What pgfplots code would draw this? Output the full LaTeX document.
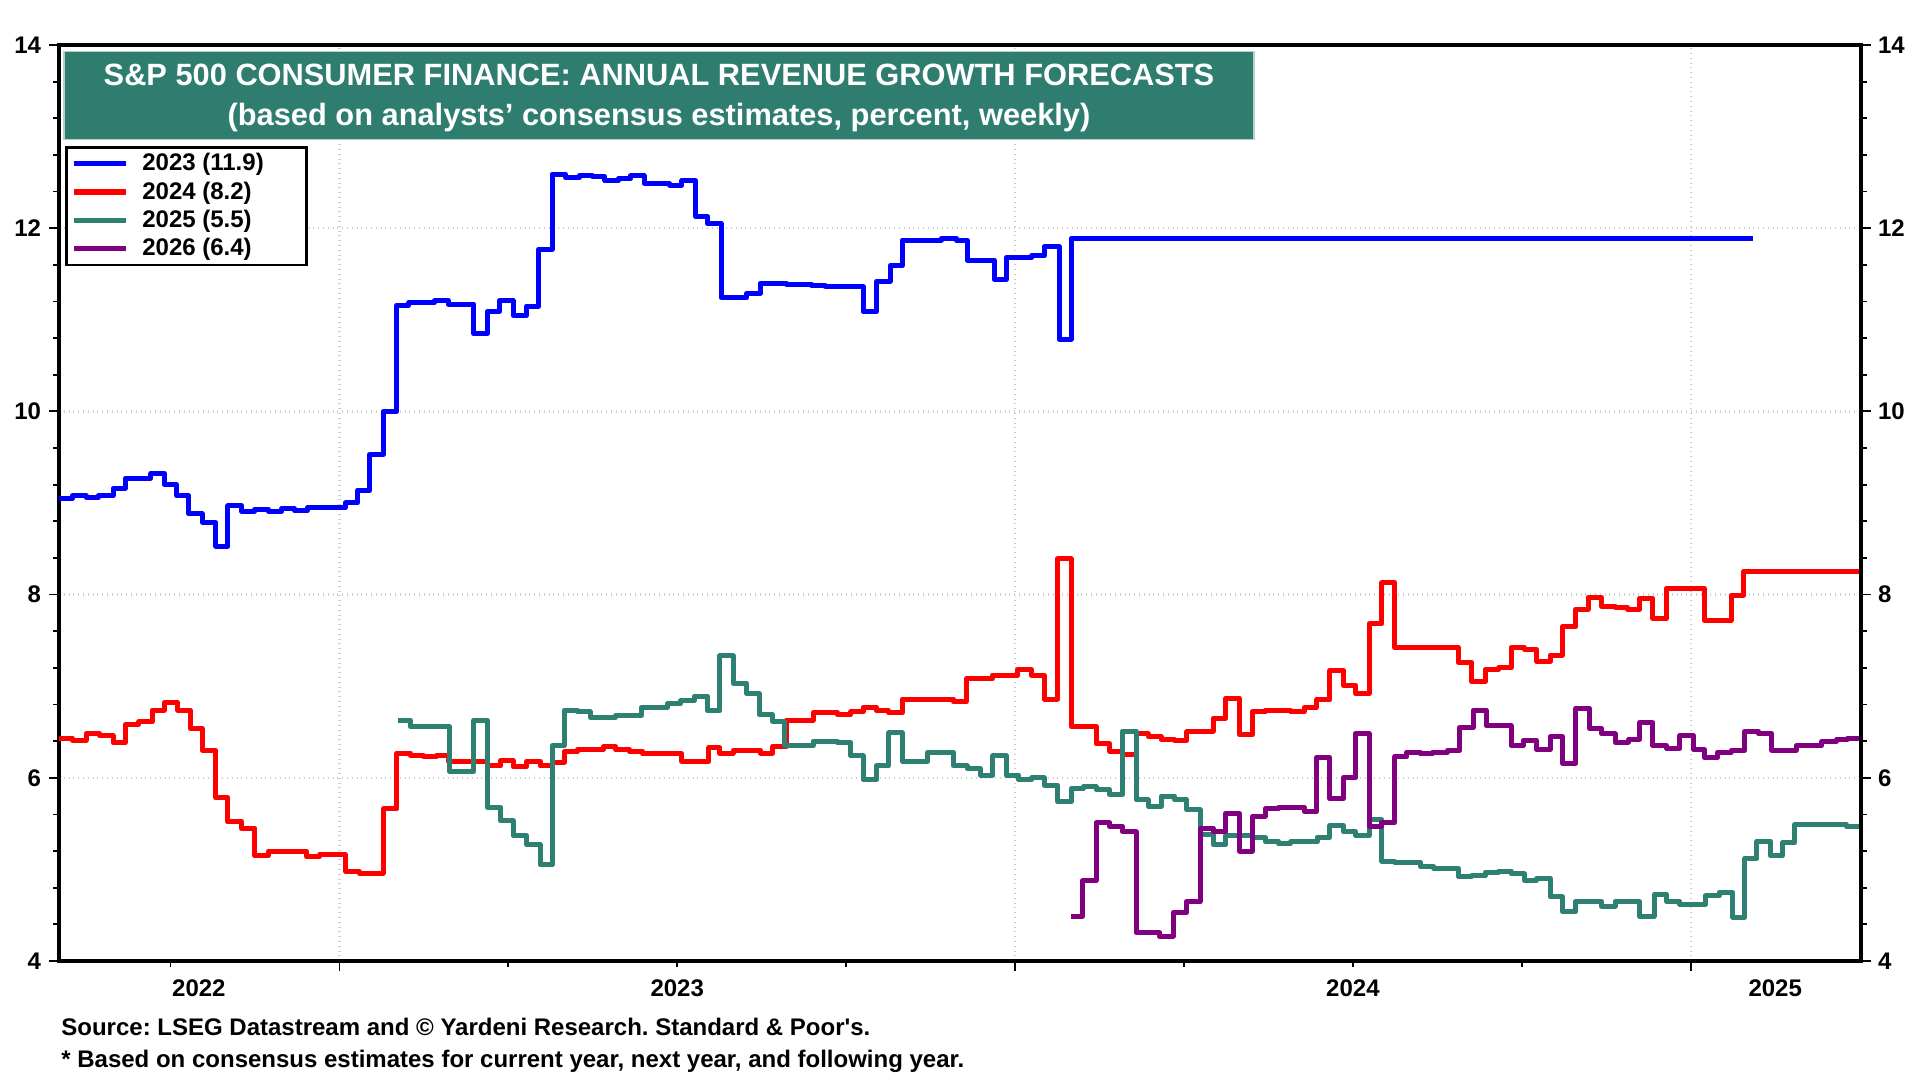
\documentclass[border=0pt]{standalone}
\usepackage{fontspec}
\setmainfont{Liberation Sans}
\usepackage{pgfplots}
\pgfplotsset{compat=1.18}
\frenchspacing
\definecolor{cblue}{RGB}{0,0,255}
\definecolor{cred}{RGB}{255,0,0}
\definecolor{cgreen}{RGB}{46,128,114}
\definecolor{cpurple}{RGB}{128,0,128}
\definecolor{boxgreen}{RGB}{46,125,110}
\definecolor{gridgray}{RGB}{205,205,205}
\newcommand{\tickfont}{\bfseries\fontsize{12}{14}\selectfont}
\begin{document}
\begin{tikzpicture}[x=1pt,y=1pt]
\path (0,0) rectangle (960,540);
\begin{axis}[
  at={(29.5pt,59.5pt)}, anchor=south west,
  scale only axis, width=901pt, height=458pt,
  xmin=2022.585, xmax=2025.252, ymin=4, ymax=14,
  axis line style={line width=2pt},
  tick align=outside, xtick pos=left, ytick pos=left,
  major tick length=5pt, minor tick length=3pt,
  tick style={black, line width=0.9pt},
  xtick={2023,2024,2025}, xticklabels={},
  minor xtick={2022.75,2023.25,2023.5,2023.75,2024.25,2024.5,2024.75},
  extra x ticks={2022.792,2023.5,2024.5,2025.125},
  extra x tick labels={2022,2023,2024,2025},
  extra x tick style={major tick length=0pt, grid=none, xticklabel style={yshift=-6pt}},
  ytick={4,6,8,10,12,14}, minor y tick num=4,
  xmajorgrids, ymajorgrids,
  major grid style={gridgray, dotted, line width=1.2pt},
  ticklabel style={font=\tickfont},
  yticklabel style={xshift=-0.5pt},
  /pgf/number format/assume math mode=true,
  legend style={at={(axis description cs:0.0033,0.8897)}, anchor=north west,
    draw=black, line width=1.3pt, fill=white,
    font=\bfseries\fontsize{12}{13}\selectfont,
    row sep=0pt, inner xsep=2.5pt, inner ysep=1pt, cells={anchor=west}},
  legend image code/.code={\draw[#1, line width=2.6pt] (0pt,0pt) -- (26pt,0pt); \path (31pt,0pt);},
  every axis plot/.append style={line width=2.5pt, line join=round, const plot},
]
\addplot[cblue] table[x=x,y=y] {
x y
2022.585 9.05
2022.605 9.08
2022.625 9.06
2022.643 9.08
2022.665 9.16
2022.683 9.27
2022.721 9.32
2022.741 9.20
2022.759 9.08
2022.777 8.88
2022.797 8.79
2022.817 8.53
2022.835 8.97
2022.855 8.91
2022.875 8.93
2022.895 8.91
2022.915 8.94
2022.933 8.92
2022.953 8.95
2023.009 9.00
2023.027 9.14
2023.045 9.53
2023.065 10.00
2023.085 11.16
2023.103 11.19
2023.141 11.21
2023.161 11.17
2023.199 10.85
2023.219 11.09
2023.237 11.21
2023.257 11.05
2023.277 11.15
2023.295 11.77
2023.315 12.59
2023.335 12.55
2023.355 12.57
2023.375 12.56
2023.393 12.52
2023.413 12.54
2023.431 12.57
2023.451 12.49
2023.489 12.47
2023.507 12.52
2023.527 12.13
2023.545 12.05
2023.565 11.24
2023.603 11.29
2023.623 11.40
2023.661 11.39
2023.699 11.37
2023.719 11.36
2023.775 11.09
2023.795 11.42
2023.815 11.59
2023.833 11.87
2023.891 11.89
2023.913 11.87
2023.929 11.65
2023.969 11.44
2023.987 11.68
2024.025 11.70
2024.043 11.80
2024.065 10.79
2024.083 11.89
2025.092 11.89
};
\addlegendentry{2023 (11.9)\hspace*{17pt}\mbox{}}
\addplot[cred] table[x=x,y=y] {
x y
2022.585 6.43
2022.605 6.41
2022.625 6.48
2022.645 6.46
2022.665 6.38
2022.683 6.58
2022.703 6.61
2022.723 6.74
2022.741 6.82
2022.761 6.74
2022.779 6.54
2022.797 6.30
2022.817 5.78
2022.835 5.52
2022.855 5.45
2022.875 5.15
2022.895 5.20
2022.951 5.14
2022.971 5.16
2023.009 4.98
2023.029 4.96
2023.065 5.66
2023.085 6.27
2023.105 6.24
2023.125 6.23
2023.143 6.24
2023.161 6.18
2023.219 6.13
2023.239 6.19
2023.257 6.12
2023.277 6.18
2023.297 6.13
2023.315 6.17
2023.333 6.29
2023.353 6.31
2023.391 6.34
2023.409 6.31
2023.429 6.29
2023.449 6.26
2023.507 6.18
2023.547 6.33
2023.563 6.27
2023.583 6.30
2023.623 6.27
2023.641 6.34
2023.661 6.63
2023.701 6.71
2023.737 6.69
2023.757 6.72
2023.775 6.77
2023.795 6.73
2023.813 6.71
2023.833 6.86
2023.909 6.83
2023.928 7.08
2023.966 7.12
2024.004 7.18
2024.024 7.12
2024.043 6.86
2024.063 8.39
2024.083 6.56
2024.120 6.37
2024.140 6.29
2024.159 6.25
2024.179 6.48
2024.197 6.45
2024.216 6.42
2024.236 6.41
2024.254 6.50
2024.274 6.51
2024.293 6.65
2024.312 6.87
2024.332 6.47
2024.351 6.72
2024.371 6.74
2024.408 6.72
2024.428 6.77
2024.446 6.85
2024.466 7.17
2024.486 7.01
2024.504 6.92
2024.524 7.68
2024.543 8.13
2024.562 7.42
2024.656 7.26
2024.676 7.05
2024.696 7.18
2024.716 7.20
2024.734 7.42
2024.754 7.40
2024.772 7.27
2024.792 7.34
2024.810 7.65
2024.830 7.84
2024.848 7.97
2024.868 7.87
2024.888 7.86
2024.906 7.84
2024.924 7.96
2024.944 7.74
2024.964 8.07
2025.020 7.72
2025.060 7.99
2025.078 8.25
2025.252 8.25
};
\addlegendentry{2024 (8.2)}
\addplot[cgreen] table[x=x,y=y] {
x y
2023.087 6.63
2023.105 6.56
2023.163 6.07
2023.199 6.63
2023.219 5.68
2023.239 5.53
2023.257 5.37
2023.277 5.27
2023.297 5.05
2023.315 6.35
2023.333 6.74
2023.353 6.72
2023.371 6.66
2023.409 6.68
2023.447 6.77
2023.486 6.81
2023.505 6.84
2023.525 6.89
2023.545 6.73
2023.563 7.33
2023.583 7.03
2023.603 6.92
2023.621 6.69
2023.641 6.62
2023.659 6.35
2023.701 6.40
2023.737 6.38
2023.757 6.24
2023.775 5.98
2023.795 6.13
2023.813 6.49
2023.833 6.18
2023.871 6.28
2023.909 6.13
2023.929 6.10
2023.949 6.03
2023.967 6.24
2023.987 6.03
2024.005 5.98
2024.025 6.00
2024.043 5.92
2024.063 5.74
2024.083 5.88
2024.101 5.90
2024.120 5.87
2024.140 5.82
2024.159 6.51
2024.179 5.76
2024.197 5.69
2024.216 5.80
2024.236 5.76
2024.254 5.65
2024.274 5.38
2024.293 5.27
2024.312 5.37
2024.351 5.35
2024.370 5.31
2024.390 5.28
2024.408 5.30
2024.447 5.35
2024.466 5.48
2024.486 5.41
2024.504 5.37
2024.524 5.54
2024.543 5.09
2024.562 5.08
2024.600 5.03
2024.620 5.01
2024.656 4.92
2024.676 4.93
2024.696 4.97
2024.716 4.98
2024.734 4.95
2024.754 4.88
2024.772 4.90
2024.792 4.70
2024.810 4.54
2024.830 4.65
2024.868 4.60
2024.888 4.65
2024.924 4.49
2024.946 4.73
2024.964 4.65
2024.984 4.62
2025.022 4.71
2025.042 4.75
2025.062 4.48
2025.080 5.12
2025.098 5.31
2025.118 5.15
2025.136 5.29
2025.154 5.49
2025.230 5.47
2025.252 5.47
};
\addlegendentry{2025 (5.5)}
\addplot[cpurple] table[x=x,y=y] {
x y
2024.083 4.49
2024.100 4.88
2024.120 5.51
2024.140 5.47
2024.159 5.41
2024.179 4.31
2024.214 4.27
2024.234 4.53
2024.254 4.65
2024.274 5.45
2024.293 5.41
2024.312 5.61
2024.332 5.20
2024.351 5.58
2024.370 5.66
2024.390 5.68
2024.428 5.63
2024.446 6.22
2024.466 5.77
2024.486 6.00
2024.504 6.48
2024.524 5.47
2024.542 5.51
2024.562 6.23
2024.580 6.28
2024.600 6.26
2024.618 6.28
2024.640 6.30
2024.658 6.55
2024.678 6.74
2024.697 6.57
2024.734 6.35
2024.752 6.41
2024.772 6.31
2024.792 6.45
2024.810 6.16
2024.830 6.76
2024.850 6.54
2024.868 6.48
2024.888 6.39
2024.908 6.42
2024.924 6.60
2024.944 6.35
2024.964 6.32
2024.984 6.46
2025.004 6.31
2025.020 6.22
2025.040 6.28
2025.060 6.30
2025.080 6.51
2025.100 6.48
2025.120 6.30
2025.156 6.35
2025.194 6.40
2025.216 6.42
2025.232 6.43
2025.252 6.43
};
\addlegendentry{2026 (6.4)}
\end{axis}
\begin{axis}[
  at={(29.5pt,59.5pt)}, anchor=south west,
  scale only axis, width=901pt, height=458pt,
  xmin=2022.585, xmax=2025.252, ymin=4, ymax=14,
  axis x line=none, axis y line*=right,
  axis line style={line width=2pt},
  tick align=outside,
  major tick length=5pt, minor tick length=3pt,
  tick style={black, line width=0.9pt},
  ytick={4,6,8,10,12,14}, minor y tick num=4,
  ticklabel style={font=\tickfont},
  /pgf/number format/assume math mode=true,
]
\addplot[draw=none] coordinates {(2023,4)};
\end{axis}
\fill[boxgreen] (31.9,470.2) rectangle (627,514.3);
\draw[white!65!boxgreen, line width=0.8pt] (31.9,470.2) rectangle (627,514.3);
\node[white, font=\bfseries\fontsize{15.4}{18}\selectfont] at (329.5,502.6) {S\&P 500 CONSUMER FINANCE: ANNUAL REVENUE GROWTH FORECASTS};
\node[white, font=\bfseries\fontsize{15.4}{18}\selectfont] at (329.5,481.2) {(based on analysts’ consensus estimates, percent, weekly)};
\node[anchor=west, inner sep=0pt, font=\bfseries\fontsize{12}{13}\selectfont] at (30.5,26.5) {Source: LSEG Datastream and © Yardeni Research. Standard \& Poor\textquotesingle s.};
\node[anchor=west, inner sep=0pt, font=\bfseries\fontsize{12}{13}\selectfont] at (30.5,9.5) {* Based on consensus estimates for current year, next year, and following year.};
\end{tikzpicture}
\end{document}
